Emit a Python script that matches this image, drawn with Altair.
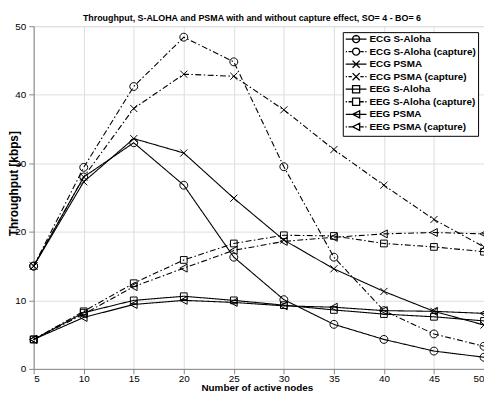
import math
import altair as alt
import pandas as pd

nodes = [5, 10, 15, 20, 25, 30, 35, 40, 45, 50]
series_names = [
    "ECG S-Aloha",
    "ECG S-Aloha (capture)",
    "ECG PSMA",
    "ECG PSMA (capture)",
    "EEG S-Aloha",
    "EEG S-Aloha (capture)",
    "EEG PSMA",
    "EEG PSMA (capture)",
]
ecg_aloha = [15.0, 28.0, 33.0, 26.8, 16.3, 10.1, 6.5, 4.3, 2.6, 1.7]
ecg_aloha_cap = [15.0, 29.4, 41.2, 48.4, 44.8, 29.5, 16.3, 8.5, 5.1, 3.3]
ecg_psma = [15.0, 27.3, 33.6, 31.5, 24.9, 18.8, 14.6, 11.3, 8.4, 6.4]
ecg_psma_cap = [15.0, 28.0, 38.0, 43.0, 42.7, 37.8, 32.0, 26.8, 21.8, 17.8]
eeg_aloha = [4.3, 8.2, 10.0, 10.6, 10.0, 9.3, 8.6, 8.0, 7.6, 7.0]
eeg_aloha_cap = [4.3, 8.4, 12.5, 15.9, 18.3, 19.5, 19.4, 18.3, 17.8, 17.1]
eeg_psma = [4.3, 7.5, 9.4, 10.0, 9.7, 9.2, 9.0, 8.5, 8.4, 8.1]
eeg_psma_cap = [4.3, 8.0, 12.0, 14.7, 17.3, 18.6, 19.2, 19.7, 19.9, 19.7]
values = [ecg_aloha, ecg_aloha_cap, ecg_psma, ecg_psma_cap,
          eeg_aloha, eeg_aloha_cap, eeg_psma, eeg_psma_cap]

rows = []
for name, ys in zip(series_names, values):
    for xv, yv in zip(nodes, ys):
        rows.append({"series": name, "nodes": xv, "thr": yv})
df = pd.DataFrame(rows)

SOLID = [1, 0]
DASHDOT = [6, 2.5, 1.5, 2.5]
dash_range = [SOLID, DASHDOT] * 4

# plot markers
CIRCLE = "M-1,0A1,1 0 1,0 1,0A1,1 0 1,0 -1,0Z"
XMARK = "M-0.9,-0.9L0.9,0.9M-0.9,0.9L0.9,-0.9"
SQUARE = "M-0.85,-0.85H0.85V0.85H-0.85Z"
TRI = "M-1,0L0.85,-1L0.85,1Z"
marker_range = [CIRCLE, CIRCLE, XMARK, XMARK, SQUARE, SQUARE, TRI, TRI]

# legend symbols: line + marker (path extends to the right of the slot)
c = 1.625
r = 0.9
poly = []
for k in range(16):
    a = 2 * math.pi * k / 16
    poly.append(f"{c + r * math.cos(a):.3f},{r * math.sin(a):.3f}")
m_circle = "M" + "L".join(poly) + "Z"
m_x = f"M{c - r},-{r}L{c + r},{r}M{c - r},{r}L{c + r},-{r}"
m_sq = f"M{c - r},-{r}H{c + r}V{r}H{c - r}Z"
m_tri = f"M{c - r},0L{c + r},-{r}L{c + r},{r}Z"
solid_line = "M-1,0H4.25"
dd_line = "M-1,0H-0.7M-0.3,0H0.55M2.7,0H3.55M3.95,0H4.25"
legend_range = [
    solid_line + m_circle, dd_line + m_circle,
    solid_line + m_x, dd_line + m_x,
    solid_line + m_sq, dd_line + m_sq,
    solid_line + m_tri, dd_line + m_tri,
]

FONT = "Liberation Sans"

x_enc = alt.X(
    "nodes:Q",
    scale=alt.Scale(domain=[5, 50], nice=False, zero=False),
    axis=alt.Axis(
        values=nodes, title="Number of active nodes", titleX=226, titleY=22,
        titleBaseline="alphabetic", titleFontSize=10, labelPadding=0,
    ),
)
y_enc = alt.Y(
    "thr:Q",
    scale=alt.Scale(domain=[0, 50], nice=False),
    axis=alt.Axis(
        values=[0, 5, 10, 15, 20, 25, 30, 35, 40, 45, 50],
        title="Throughput [kbps]", titleX=-20, titleY=159,
        titleBaseline="middle", titleFontSize=12, labelPadding=3,
    ),
)

lines = alt.Chart(df).mark_line(color="black", strokeWidth=1.1).encode(
    x=x_enc,
    y=y_enc,
    detail="series:N",
    strokeDash=alt.StrokeDash(
        "series:N",
        scale=alt.Scale(domain=series_names, range=dash_range),
        legend=None,
    ),
)

points = alt.Chart(df).mark_point(
    filled=False, color="black", strokeWidth=1, size=64, opacity=1
).encode(
    x="nodes:Q",
    y="thr:Q",
    shape=alt.Shape(
        "series:N",
        scale=alt.Scale(domain=series_names, range=marker_range),
        legend=None,
    ),
)

legend_layer = alt.Chart(df).mark_point(
    filled=False, color="black", strokeWidth=1.2, size=64, opacity=1
).encode(
    x="nodes:Q",
    y="thr:Q",
    shape=alt.Shape(
        "series:N",
        scale=alt.Scale(domain=series_names, range=legend_range),
        legend=alt.Legend(
            title=None, orient="top-right", offset=6,
            symbolSize=64, symbolStrokeWidth=1.3, symbolStrokeColor="black",
            symbolFillColor="transparent",
            labelFont=FONT, labelFontSize=10, labelFontWeight="bold",
            labelColor="black", labelOffset=15,
            padding=2, rowPadding=-1.3,
            strokeColor="black", fillColor="white",
        ),
    ),
).transform_filter("false")

chart = alt.layer(lines, points, legend_layer).resolve_scale(
    shape="independent"
).properties(
    width=456,
    height=347,
    autosize=alt.AutoSizeParams(type="none"),
    padding={"left": 26, "top": 16, "right": 0, "bottom": 25},
    title=alt.Title(
        "Throughput, S-ALOHA and PSMA with and without capture effect, SO= 4 - BO= 6",
        font=FONT, fontSize=9, fontWeight="bold", color="black",
        anchor="middle", baseline="alphabetic", offset=5, dx=-7, dy=14,
    ),
).configure_view(
    stroke="black", strokeWidth=1.2
).configure_axis(
    domain=False, ticks=False, tickSize=0,
    grid=True, gridColor="black", gridDash=[1, 2], gridWidth=0.7, gridOpacity=0.8,
    labelFont=FONT, labelFontSize=10, labelFontWeight="bold", labelColor="black",
    titleFont=FONT, titleFontWeight="bold", titleColor="black",
).configure(background="white")

chart.save("out.html", embed_options={"renderer": "svg", "actions": False})
